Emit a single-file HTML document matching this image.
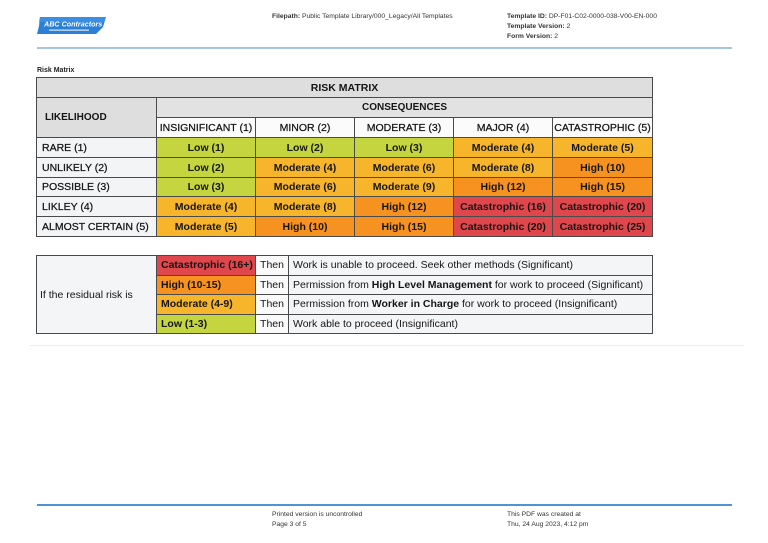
<!DOCTYPE html>
<html><head><meta charset="utf-8">
<style>
html,body{margin:0;padding:0;background:#fff;}
body{width:768px;height:543px;position:relative;overflow:hidden;font-family:"Liberation Sans",Arial,sans-serif;color:#222;}
.abs{position:absolute;white-space:nowrap;}
.sm{font-size:6.75px;color:#333;line-height:10px;}
table{border-collapse:collapse;table-layout:fixed;position:absolute;}
td{border:1px solid #4a4a4a;padding:0;font-size:10.5px;color:#151515;overflow:hidden;white-space:nowrap;}
.t1 td{height:19px;text-align:center;}
.lc{text-align:left !important;padding-left:5px;background:#f3f4f6;-webkit-text-stroke:0.25px #151515;}
.g{background:#c4d540;font-weight:bold;}
.y{background:#f7b52c;font-weight:bold;}
.o{background:#f6921f;font-weight:bold;}
.r{background:#df474c;font-weight:bold;}
.hd{background:#dedede;font-weight:bold;}
.ch{background:#fbfbfb;-webkit-text-stroke:0.25px #151515;}
.t2 td{height:18.5px;}
</style></head><body>

<!-- logo -->
<svg class="abs" style="left:36px;top:15px" width="72" height="22" viewBox="0 0 72 22">
<polygon points="4,2 70,2 67,12 60,19 1,19 3,11" fill="#2b7fd6"/>
<polygon points="4,2 70,2 68,7 3,7" fill="#3a8ee3"/>
<text x="8" y="11.5" font-family="Liberation Sans, sans-serif" font-size="7.2" font-weight="bold" font-style="italic" fill="#fff">ABC Contractors</text>
<rect x="13" y="14.5" width="40" height="1.3" fill="#cfe2f7"/>
</svg>

<div class="abs sm" style="left:272px;top:12px;"><b>Filepath:</b> Public Template Library/000_Legacy/All Templates</div>
<div class="abs sm" style="left:507px;top:12px;"><b>Template ID:</b> DP-F01-C02-0000-038-V00-EN-000<br><b>Template Version:</b> 2<br><b>Form Version:</b> 2</div>

<div class="abs" style="left:37px;top:47px;width:695px;height:1.5px;background:#a7c5dd;"></div>

<div class="abs" style="left:37px;top:67px;font-size:7px;font-weight:bold;color:#222;">Risk Matrix</div>

<table class="t1" style="left:36px;top:77px;width:616px;border:1.5px solid #777;">
<colgroup><col style="width:120px"><col style="width:99px"><col style="width:99px"><col style="width:99px"><col style="width:99px"><col style="width:100px"></colgroup>
<tr><td colspan="6" class="hd" style="font-size:10.5px;">RISK MATRIX</td></tr>
<tr><td rowspan="2" class="hd" style="text-align:left;padding-left:8px;font-size:10px;">LIKELIHOOD</td><td colspan="5" class="hd" style="background:#e2e2e2;font-size:10px;">CONSEQUENCES</td></tr>
<tr><td class="ch">INSIGNIFICANT (1)</td><td class="ch">MINOR (2)</td><td class="ch">MODERATE (3)</td><td class="ch">MAJOR (4)</td><td class="ch">CATASTROPHIC (5)</td></tr>
<tr><td class="lc">RARE (1)</td><td class="g">Low (1)</td><td class="g">Low (2)</td><td class="g">Low (3)</td><td class="y">Moderate (4)</td><td class="y">Moderate (5)</td></tr>
<tr><td class="lc">UNLIKELY (2)</td><td class="g">Low (2)</td><td class="y">Moderate (4)</td><td class="y">Moderate (6)</td><td class="y">Moderate (8)</td><td class="o">High (10)</td></tr>
<tr style="height:18px"><td class="lc" style="height:18px">POSSIBLE (3)</td><td class="g" style="height:18px">Low (3)</td><td class="y" style="height:18px">Moderate (6)</td><td class="y" style="height:18px">Moderate (9)</td><td class="o" style="height:18px">High (12)</td><td class="o" style="height:18px">High (15)</td></tr>
<tr><td class="lc">LIKLEY (4)</td><td class="y">Moderate (4)</td><td class="y">Moderate (8)</td><td class="o">High (12)</td><td class="r">Catastrophic (16)</td><td class="r">Catastrophic (20)</td></tr>
<tr><td class="lc">ALMOST CERTAIN (5)</td><td class="y">Moderate (5)</td><td class="o">High (10)</td><td class="o">High (15)</td><td class="r">Catastrophic (20)</td><td class="r">Catastrophic (25)</td></tr>
</table>

<table class="t2" style="left:36px;top:255px;width:616px;border:1.5px solid #777;">
<colgroup><col style="width:120px"><col style="width:99px"><col style="width:33px"><col style="width:364px"></colgroup>
<tr><td rowspan="4" style="background:#f4f5f7;padding-left:3px;">If the residual risk is</td><td class="r" style="padding-left:4px;">Catastrophic (16+)</td><td style="text-align:center;background:#fafafa;">Then</td><td style="padding-left:4px;background:#f4f5f7;">Work is unable to proceed. Seek other methods (Significant)</td></tr>
<tr><td class="o" style="padding-left:4px;">High (10-15)</td><td style="text-align:center;background:#fafafa;">Then</td><td style="padding-left:4px;background:#f4f5f7;">Permission from <b>High Level Management</b> for work to proceed (Significant)</td></tr>
<tr><td class="y" style="padding-left:4px;">Moderate (4-9)</td><td style="text-align:center;background:#fafafa;">Then</td><td style="padding-left:4px;background:#f4f5f7;">Permission from <b>Worker in Charge</b> for work to proceed (Insignificant)</td></tr>
<tr><td class="g" style="padding-left:4px;">Low (1-3)</td><td style="text-align:center;background:#fafafa;">Then</td><td style="padding-left:4px;background:#f4f5f7;">Work able to proceed (Insignificant)</td></tr>
</table>

<div class="abs" style="left:30px;top:345px;width:714px;height:1px;background:#ececec;"></div>

<div class="abs" style="left:37px;top:504px;width:695px;height:1.5px;background:#4f94d6;"></div>
<div class="abs sm" style="left:272px;top:510px;">Printed version is uncontrolled<br>Page 3 of 5</div>
<div class="abs sm" style="left:507px;top:510px;">This PDF was created at<br>Thu, 24 Aug 2023, 4:12 pm</div>

</body></html>
